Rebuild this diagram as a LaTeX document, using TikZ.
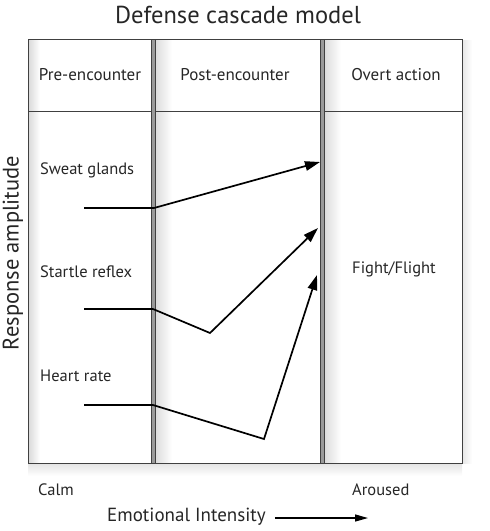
\documentclass[tikz,border=0pt]{standalone}
\usepackage{fontspec}
\setmainfont{PT Sans}
\usetikzlibrary{arrows.meta}
\definecolor{framec}{HTML}{404040}
\definecolor{barfill}{HTML}{9A9A9A}
\tikzset{
  lbl/.style={font=\fontsize{16.5}{19}\selectfont, text=black!85, inner sep=0pt},
  head/.style={font=\fontsize{17}{20}\selectfont, text=black!85, inner sep=0pt},
  resp/.style={line width=1.7pt, black, line join=miter},
  respar/.style={resp, -{Triangle[length=15pt,width=9.5pt]}},
  divbar/.style={fill=barfill, draw=framec, line width=0.8pt},
  shad/.style={shading=axis, left color=black!14, right color=white, draw=none}
}
\begin{document}
\begin{tikzpicture}[x=1pt,y=-1pt]
\useasboundingbox (0,0) rectangle (490,531);
% shadows
\fill[shad] (155,40) rectangle (172,463);
\fill[shad] (324,40) rectangle (341,463);
\fill[shad] (29,40) rectangle (40,463);
\fill[shading=axis, top color=black!10, bottom color=white] (28,464) rectangle (462,476);
\fill[shading=axis, left color=black!10, right color=white] (462,40) rectangle (472,463);
% frame
\draw[framec, line width=1pt] (28,39) rectangle (462,463);
\draw[framec, line width=1pt] (28,111) -- (462,111);
\draw[divbar] (151,39) rectangle (155,463);
\draw[divbar] (320,39) rectangle (324,463);
% title
\node[font=\fontsize{24.5}{28}\selectfont, text=black!85, inner sep=0pt] (title) at (238,15) {Defense cascade model};
% headers
\node[head] (pre) at (90,75) {Pre-encounter};
\node[head] (post) at (235,75) {Post-encounter};
\node[head] (overt) at (396,75) {Overt action};
% labels
\node[lbl, anchor=west] (sweat) at (40,170) {Sweat glands};
\node[lbl, anchor=west] (startle) at (40,272) {Startle reflex};
\node[lbl, anchor=west] (heart) at (40,376) {Heart rate};
\node[lbl] (fight) at (394,269) {Fight/Flight};
\node[lbl, anchor=west] (calm) at (38,490) {Calm};
\node[lbl, anchor=west] (aroused) at (352,490) {Aroused};
\node[font=\fontsize{19}{22}\selectfont, text=black!85, inner sep=0pt, anchor=west] (emo) at (107,517) {Emotional Intensity};
\node[font=\fontsize{22.5}{26}\selectfont, text=black!85, inner sep=0pt, rotate=90] (resp) at (13,253) {Response amplitude};
\coordinate (emoend) at (368,518);
\draw[line width=1.3pt, -{Triangle[length=13pt,width=7pt]}] (emo.east) ++(9,1) -- (emoend);
% response lines
\coordinate (s0) at (84,208);
\coordinate (s1) at (154,208);
\coordinate (s2) at (320,162);
\coordinate (t0) at (84,309);
\coordinate (t1) at (153,309);
\coordinate (t2) at (210,333);
\coordinate (t3) at (318,228);
\coordinate (h0) at (84,405);
\coordinate (h1) at (153,405);
\coordinate (h2) at (264,439);
\coordinate (h3) at (317,275);
\draw[resp] (s0) -- (s1);
\draw[respar] (s1) -- (s2);
\draw[resp] (t0) -- (t1);
\draw[respar] (t1) -- (t2) -- (t3);
\draw[resp] (h0) -- (h1);
\draw[respar] (h1) -- (h2) -- (h3);
\end{tikzpicture}
\end{document}
